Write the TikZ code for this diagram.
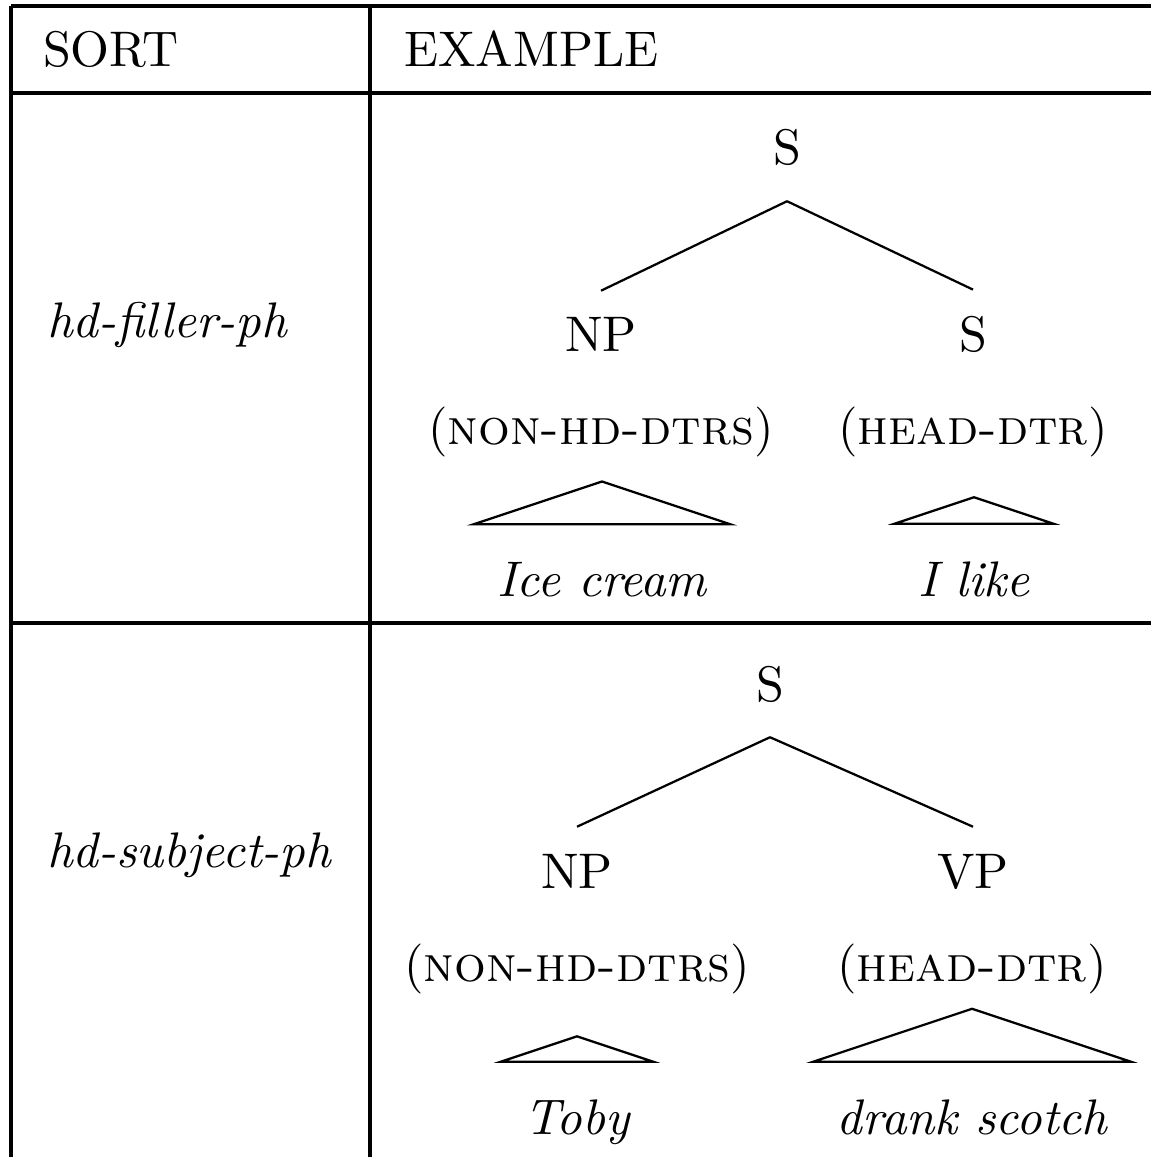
\documentclass[tikz,border=0pt]{standalone}
\usepackage{tikz}
\usetikzlibrary{positioning,calc}

\tikzset{
  tablerule/.style={line width=0.65pt},
  mother/.style={inner xsep=0pt,inner ysep=6.8pt,anchor=base},
  cat/.style={inner xsep=0pt,inner ysep=5.2pt,anchor=base},
  role/.style={inner sep=0pt,anchor=base},
  words/.style={inner xsep=4.5pt,inner ysep=7.3pt,anchor=base,font=\itshape},
  label/.style={inner sep=0pt,anchor=base west}
}

\begin{document}
\begin{tikzpicture}[x=0.2pt,y=-0.2pt,line width=0.45pt]
\useasboundingbox (0,0) rectangle (1151,1157);
% table
\draw[tablerule] (11,6) -- (1151,6);
\draw[tablerule] (11,93) -- (1151,93);
\draw[tablerule] (11,623) -- (1151,623);
\draw[tablerule] (11,6) -- (11,1157);
\draw[tablerule] (370,6) -- (370,1157);

\node[label] (sort) at (42,67) {SORT};
\node[label] (example) at (403,67) {EXAMPLE};
\node[label] (filler) at (46,338) {\textit{hd-filler-ph}};
\node[label] (subject) at (46,867) {\textit{hd-subject-ph}};

% hd-filler-ph
\node[mother] (s1) at (787,165) {S};
\node[cat] (np1) at (601,352) {NP};
\node[cat] (hs1) at (973,352) {S};
\node[role] (nh1) at (601,445) {(\textsc{non-hd-dtrs})};
\node[role] (hd1) at (973,445) {(\textsc{head-dtr})};
\node[words] (ic) at (602,596) {Ice cream};
\node[words] (il) at (974,596) {I like};

\draw (s1.south) -- (np1.north);
\draw (s1.south) -- (hs1.north);

% hd-subject-ph
\node[mother] (s2) at (770,701) {S};
\node[cat] (np2) at (577,888) {NP};
\node[cat] (vp2) at (973,888) {VP};
\node[role] (nh2) at (577,981) {(\textsc{non-hd-dtrs})};
\node[role] (hd2) at (972,981) {(\textsc{head-dtr})};
\node[words] (tb) at (577,1134) {Toby};
\node[words] (ds) at (972,1134) {drank scotch};

\draw (s2.south) -- (np2.north);
\draw (s2.south) -- (vp2.north);

% roofs over the words
\foreach \w in {ic,il,tb,ds}
  \draw let \p1=(\w.north west), \p2=(\w.north east) in
    (\p1) -- ($(\p1)!0.5!(\p2)+(0pt,{(\x2-\x1)/6})$) -- (\p2) -- cycle;
\end{tikzpicture}
\end{document}
